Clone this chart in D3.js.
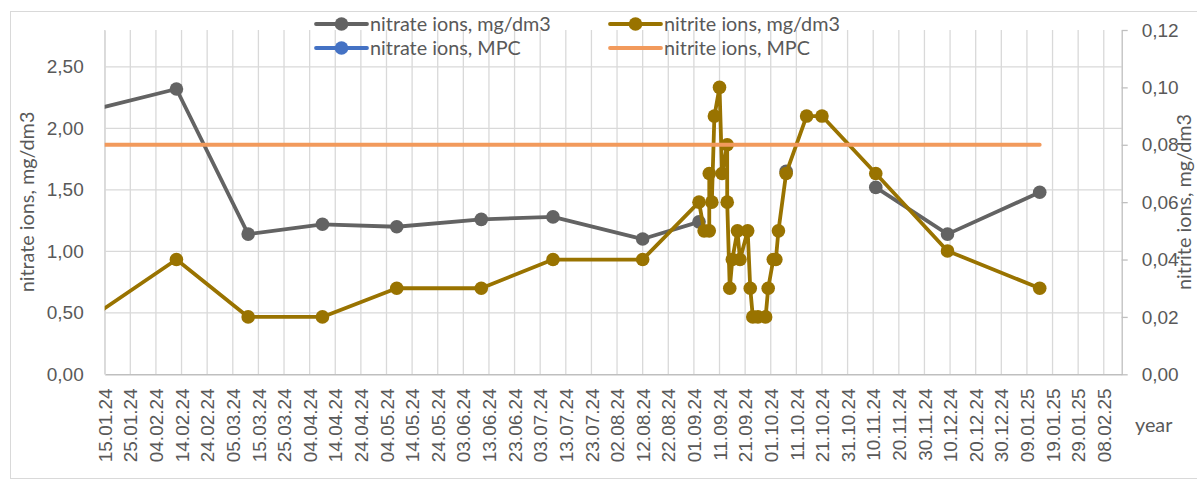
<!DOCTYPE html>
<html>
<head>
<meta charset="utf-8">
<script src="https://cdnjs.cloudflare.com/ajax/libs/d3/7.8.5/d3.min.js"></script>
<style>
  body { margin: 0; background: #fff; }
  svg { display: block; font-family: Lato, 'Open Sans', sans-serif; }
  .axis text { fill: #595959; font-size: 19px; }
  .label, .legend text { fill: #595959; font-size: 19.8px; }
</style>
</head>
<body>
<svg class="chart"></svg>
<script>
// sampling dates (first one sits left of the axis start and gets clipped)
var dates = ['10.01.24', '12.02.24', '11.03.24', '09.04.24', '08.05.24', '10.06.24', '08.07.24', '12.08.24',
  '03.09.24', '05.09.24', '07.09.24', '07.09.24', '08.09.24', '09.09.24', '11.09.24', '12.09.24',
  '14.09.24', '14.09.24', '15.09.24', '16.09.24', '18.09.24', '19.09.24', '22.09.24', '23.09.24',
  '24.09.24', '26.09.24', '29.09.24', '30.09.24', '02.10.24', '03.10.24', '04.10.24', '07.10.24',
  '15.10.24', '21.10.24', '11.11.24', '09.12.24', '14.01.25'];
var nitrate = [2.15, 2.32, 1.14, 1.22, 1.20, 1.26, 1.28, 1.10,
  1.24, null, null, null, null, null, null, null,
  null, null, null, null, null, null, null, null,
  null, null, null, null, null, null, null, 1.65,
  null, null, 1.52, 1.14, 1.48];
var nitrite = [0.020, 0.040, 0.020, 0.020, 0.030, 0.030, 0.040, 0.040,
  0.060, 0.050, 0.050, 0.070, 0.060, 0.090, 0.100, 0.070,
  0.080, 0.060, 0.030, 0.040, 0.050, 0.040, 0.050, 0.030,
  0.020, 0.020, 0.020, 0.030, 0.040, 0.040, 0.050, 0.070,
  0.090, 0.090, 0.070, 0.043, 0.030];

// limits
var mpcDates = ['10.01.24', '14.01.25'];
var nitrateMPC = [45, 45];
var nitriteMPC = [0.08, 0.08];

var leftTicks = [0, 0.5, 1, 1.5, 2, 2.5];
var rightTicks = [0, 0.02, 0.04, 0.06, 0.08, 0.10, 0.12];
var xStart = '15.01.24';
var xEnd = '15.02.25';
var tickStepDays = 10;
var tickCount = 40;

var legendNames = ['nitrate ions, mg/dm3', 'nitrite ions, mg/dm3', 'nitrate ions, MPC', 'nitrite ions, MPC'];

var margin = {top: 30, right: 75.3, bottom: 107.7, left: 104.7};
var width = 1197 - margin.left - margin.right;
var height = 482 - margin.top - margin.bottom;

var parse = d3.utcParse('%d.%m.%y');
var fmtDate = d3.utcFormat('%d.%m.%y');
var comma = v => d3.format('.2f')(v).replace('.', ',');

var x = d3.scaleUtc().domain([parse(xStart), parse(xEnd)]).range([0, width]);
var yL = d3.scaleLinear().domain([0, 2.8]).range([height, 0]);
var yR = d3.scaleLinear().domain([0, 0.12]).range([height, 0]);

var svg = d3.select('.chart').attr('width', 1197).attr('height', 482);

// chart area border
svg.append('rect')
  .attr('x', 10.5).attr('y', 11.5)
  .attr('width', 1200).attr('height', 467)
  .attr('fill', 'none').attr('stroke', '#d9d9d9');

var chart = svg.append('g')
  .attr('transform', 'translate(' + margin.left + ',' + margin.top + ')');

chart.append('clipPath').attr('id', 'plot')
  .append('rect').attr('width', width).attr('height', height);

var xTicks = d3.range(tickCount).map(i => d3.utcDay.offset(parse(xStart), i * tickStepDays));

//grid
chart.append('g').selectAll('line')
  .data(xTicks)
  .enter().append('line')
  .attr('x1', d => x(d)).attr('x2', d => x(d))
  .attr('y1', 0).attr('y2', height)
  .attr('stroke', '#d9d9d9').attr('stroke-width', 1.3);

chart.append('g').selectAll('line')
  .data(leftTicks.slice(1))
  .enter().append('line')
  .attr('x1', 0).attr('x2', width)
  .attr('y1', d => yL(d)).attr('y2', d => yL(d))
  .attr('stroke', '#d9d9d9').attr('stroke-width', 1.3);

//X axis setup
var xAxis = d3.axisBottom(x).tickValues(xTicks).tickFormat(fmtDate).tickSize(0);
var gx = chart.append('g')
  .attr('class', 'x axis')
  .attr('transform', 'translate(0,' + height + ')')
  .call(xAxis);
gx.select('.domain').attr('stroke', '#bfbfbf').attr('stroke-width', 1.5);
gx.selectAll('text')
  .attr('transform', 'rotate(-90)')
  .attr('x', -14).attr('y', 0).attr('dy', '0.35em')
  .style('text-anchor', 'end');

//Y axis (left)
var gl = chart.append('g')
  .attr('class', 'y axis')
  .call(d3.axisLeft(yL).tickValues(leftTicks).tickFormat(comma).tickSize(0).tickPadding(21));
gl.select('.domain').attr('stroke', '#d9d9d9').attr('stroke-width', 1.3);

//Y axis (right)
var gr = chart.append('g')
  .attr('class', 'y axis')
  .attr('transform', 'translate(' + width + ',0)')
  .call(d3.axisRight(yR).tickValues(rightTicks).tickFormat(comma).tickSizeInner(6).tickSizeOuter(0).tickPadding(14));
gr.select('.domain').attr('stroke', '#bfbfbf').attr('stroke-width', 1.3);
gr.selectAll('line').attr('stroke', '#bfbfbf').attr('stroke-width', 1.3);

// axis titles
svg.append('text').attr('class', 'label')
  .attr('transform', 'translate(34,202) rotate(-90)')
  .attr('text-anchor', 'middle')
  .text('nitrate ions, mg/dm3');
svg.append('text').attr('class', 'label')
  .attr('transform', 'translate(1191,202) rotate(-90)')
  .attr('text-anchor', 'middle')
  .text('nitrite ions, mg/dm3');
svg.append('text').attr('class', 'label')
  .attr('x', 1135).attr('y', 432)
  .text('year');

// series
var plot = chart.append('g').attr('clip-path', 'url(#plot)');

var rows = dates.map((d, i) => ({date: parse(d), no3: nitrate[i], no2: nitrite[i]}));
var mpcRows = mpcDates.map((d, i) => ({date: parse(d), no3: nitrateMPC[i], no2: nitriteMPC[i]}));

var lineL = key => d3.line().defined(d => d[key] != null).x(d => x(d.date)).y(d => yL(d[key]));
var lineR = key => d3.line().defined(d => d[key] != null).x(d => x(d.date)).y(d => yR(d[key]));

plot.append('path').datum(rows)
  .attr('d', lineL('no3'))
  .attr('fill', 'none').attr('stroke', '#636363').attr('stroke-width', 3.8).attr('stroke-linejoin', 'round');
plot.selectAll('.no3')
  .data(rows.filter(d => d.no3 != null))
  .enter().append('circle')
  .attr('class', 'no3')
  .attr('cx', d => x(d.date)).attr('cy', d => yL(d.no3)).attr('r', 6.8)
  .attr('fill', '#636363');

plot.append('path').datum(mpcRows)
  .attr('d', lineL('no3'))
  .attr('fill', 'none').attr('stroke', '#4472c4').attr('stroke-width', 3.8);

plot.append('path').datum(rows)
  .attr('d', lineR('no2'))
  .attr('fill', 'none').attr('stroke', '#997300').attr('stroke-width', 3.8).attr('stroke-linejoin', 'round');
plot.selectAll('.no2')
  .data(rows)
  .enter().append('circle')
  .attr('class', 'no2')
  .attr('cx', d => x(d.date)).attr('cy', d => yR(d.no2)).attr('r', 6.8)
  .attr('fill', '#997300');

plot.append('path').datum(mpcRows)
  .attr('d', lineR('no2'))
  .attr('fill', 'none').attr('stroke', '#f29a5c').attr('stroke-width', 3.8).attr('stroke-linecap', 'round');

// legend
var legendItems = [
  {name: legendNames[0], color: '#636363', marker: true, x: 316, y: 24},
  {name: legendNames[1], color: '#997300', marker: true, x: 610, y: 24},
  {name: legendNames[2], color: '#4472c4', marker: true, x: 316, y: 48},
  {name: legendNames[3], color: '#f29a5c', marker: false, x: 610, y: 48}
];
var legend = svg.append('g').attr('class', 'legend')
  .selectAll('g')
  .data(legendItems)
  .enter().append('g')
  .attr('transform', d => 'translate(' + d.x + ',' + d.y + ')');
legend.append('line')
  .attr('x1', 0).attr('x2', 51)
  .attr('stroke', d => d.color).attr('stroke-width', 3.8).attr('stroke-linecap', 'round');
legend.filter(d => d.marker).append('circle')
  .attr('cx', 25.5).attr('r', 6.8).attr('fill', d => d.color);
legend.append('text')
  .attr('x', 54).attr('dy', '0.35em')
  .text(d => d.name);
</script>
</body>
</html>
